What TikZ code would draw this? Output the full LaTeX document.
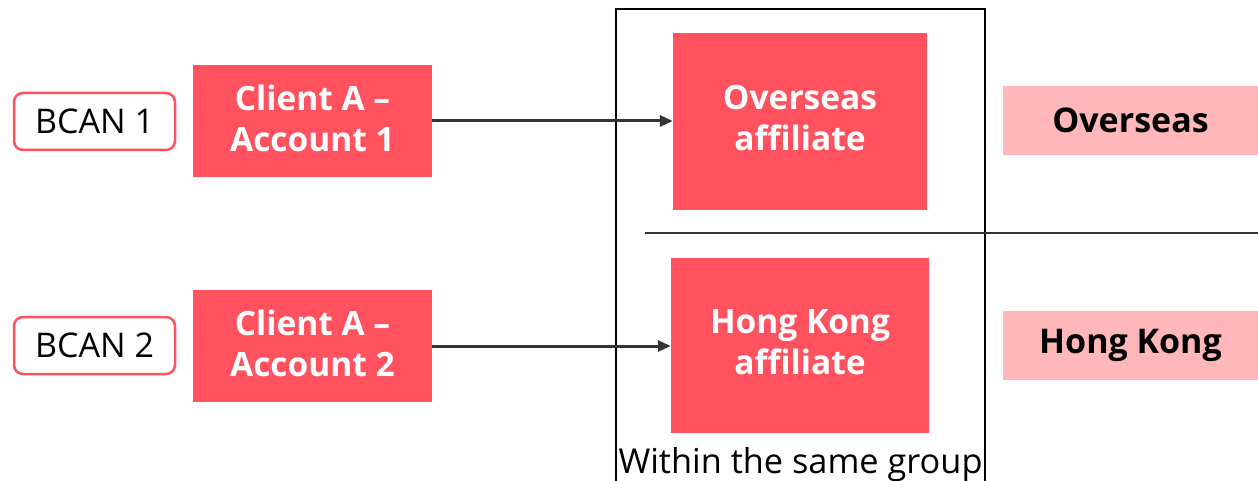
\documentclass[tikz,border=0pt]{standalone}
\usepackage{fontspec}
\setmainfont{Open Sans}
\usetikzlibrary{arrows.meta}
\definecolor{brandred}{HTML}{FF525E}
\definecolor{softpink}{HTML}{FFB7BA}
\definecolor{linegray}{HTML}{333333}
\tikzset{
  x=1pt, y=-1pt,
  bcanbox/.style={draw=brandred, line width=2.5pt, rounded corners=9pt, fill=white,
    minimum width=161pt, minimum height=57pt, inner sep=0pt,
    font=\fontsize{34}{40}\selectfont, text=black},
  redbox/.style={fill=brandred, inner sep=0pt},
  redtext/.style={inner sep=0pt, align=center, text=white,
    font=\fontsize{33.5}{41}\selectfont\bfseries},
  regionbox/.style={fill=softpink, inner sep=0pt, minimum width=255pt, minimum height=69pt,
    font=\fontsize{34}{38}\selectfont\bfseries, text=black},
  flow/.style={draw=linegray, line width=3pt, -{Triangle[length=13pt,width=11pt]}},
}
\begin{document}
\begin{tikzpicture}
\useasboundingbox (0,0) rectangle (1258,481);

% group frame (open at the bottom)
\draw[line width=2pt, black] (616,482) -- (616,9) -- (985,9) -- (985,482);
\node[font=\fontsize{34.3}{40}\selectfont, text=black, anchor=base, inner sep=0pt] (grp) at (800.5,473) {Within the same group};

% divider between regions
\coordinate (divL) at (645,233);
\coordinate (divR) at (1258,233);
\draw[line width=2pt, linegray] (divL) -- (divR);

% account identifiers
\node[bcanbox] (bcan1) at (94.5,121.5) {BCAN 1};
\node[bcanbox] (bcan2) at (94.5,345.5) {BCAN 2};

% client accounts
\node[redbox, minimum width=239pt, minimum height=112pt] (acc1) at (312.5,121) {};
\node[redbox, minimum width=239pt, minimum height=112pt] (acc2) at (312.5,346) {};
\node[redtext] (acc1t) at ([yshift=3pt]acc1.center) {Client A –\\Account 1};
\node[redtext] (acc2t) at ([yshift=3pt]acc2.center) {Client A –\\Account 2};

% affiliates
\node[redbox, minimum width=254pt, minimum height=177pt] (aff1) at (800,121.5) {};
\node[redbox, minimum width=258pt, minimum height=175pt] (aff2) at (800,345.5) {};
\node[redtext] (aff1t) at ([yshift=3.5pt]aff1.center) {Overseas\\affiliate};
\node[redtext] (aff2t) at ([yshift=3pt]aff2.center) {Hong Kong\\affiliate};

% region labels
\node[regionbox] (reg1) at (1130.5,120.5) {Overseas};
\node[regionbox] (reg2) at (1130.5,345.5) {Hong Kong};

% flows
\draw[flow] (acc1.east) -- (aff1.west |- acc1.east);
\draw[flow] (acc2.east) -- (aff2.west |- acc2.east);
\end{tikzpicture}
\end{document}
